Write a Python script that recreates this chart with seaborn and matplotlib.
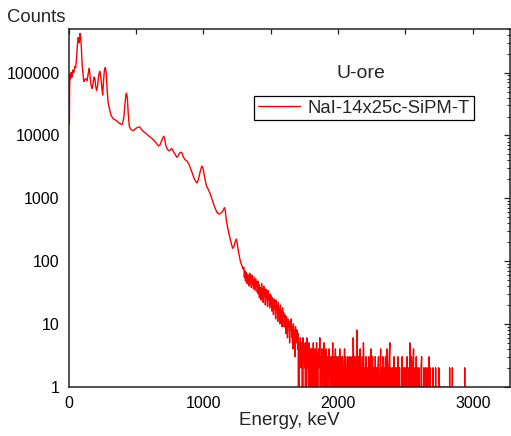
import numpy as np
import pandas as pd
import matplotlib
matplotlib.use("Agg")
import matplotlib.pyplot as plt
import seaborn as sns

# ---- data ----
smooth_energy = [5, 7, 10, 14, 18, 24, 30, 38, 45, 52, 58, 64, 70, 74, 78, 84, 88, 94, 100, 106,
                 112, 120, 128, 136, 146, 153, 160, 168, 173, 180, 188, 194, 200, 207, 214, 224,
                 232, 240, 247, 252, 258, 265, 272, 278, 285, 292, 300, 314, 330, 351, 370, 390,
                 400, 410, 418, 425, 430, 436, 442, 450, 462, 475, 486, 500, 515, 528, 540, 555,
                 573, 590, 607, 622, 640, 655, 667, 680, 692, 705, 712, 720, 730, 741, 752, 765,
                 775, 790, 802, 812, 822, 832, 842, 852, 865, 879, 892, 904, 918, 930, 943, 953,
                 963, 975, 985, 992, 1000, 1010, 1022, 1035, 1052, 1065, 1078, 1089, 1100, 1114,
                 1125, 1138, 1148, 1156, 1162, 1170, 1178, 1188, 1200, 1210, 1217, 1225, 1235,
                 1244, 1250, 1258, 1265, 1274, 1285, 1295]
smooth_counts = [15000, 60000, 95000, 80000, 100000, 85000, 110000, 100000, 125000, 120000,
                 170000, 260000, 360000, 340000, 300000, 420000, 400000, 250000, 130000, 95000,
                 72000, 78000, 80000, 74000, 100000, 117000, 80000, 60000, 56000, 65000, 85000,
                 82000, 62000, 52000, 60000, 95000, 105000, 80000, 55000, 44000, 70000, 110000,
                 120000, 100000, 55000, 34000, 28000, 21000, 18500, 17400, 16000, 15000, 15200,
                 20000, 32000, 45000, 47000, 38000, 22000, 14000, 12500, 12000, 12200, 13000,
                 13500, 13600, 12500, 11500, 10800, 10000, 9300, 8800, 8000, 7300, 6800, 7200,
                 8500, 9700, 9000, 7000, 6200, 5700, 5800, 6200, 5700, 5000, 4500, 4700, 5200,
                 5400, 5200, 4500, 4100, 3900, 3500, 3000, 2500, 2100, 1850, 1750, 2000, 2600,
                 3100, 3240, 2800, 2100, 1600, 1400, 1150, 950, 780, 680, 600, 560, 570, 600,
                 650, 710, 650, 450, 360, 280, 220, 180, 160, 170, 200, 225, 200, 150, 125, 100,
                 85, 75]

tail_start = 1300   # keV, channel width 4 keV
tail_step = 4
tail_counts = [
    80, 55, 70, 48, 66, 52, 44, 62, 50, 58, 40, 64, 46, 54, 38, 60, 42, 50, 36, 56, 44, 34, 52, 40, 46,
    32, 48, 30, 42, 26, 38, 34, 24, 44, 30, 36, 22, 40, 28, 33, 20, 36, 26, 30, 19, 34, 24, 28, 18, 30,
    20, 28, 16, 26, 22, 14, 25, 18, 21, 12, 24, 17, 19, 11, 22, 15, 18, 10, 20, 14, 16, 9, 18, 13, 15,
    9, 14, 11, 7, 13, 10, 6, 12, 9, 11, 5, 10, 8, 12, 6, 9, 4, 10, 7, 8, 3, 9, 6, 5, 8,
    4, 7, 0, 5, 3, 6, 2, 5, 4, 0, 6, 3, 4, 2, 5, 0, 3, 6, 2, 4, 1, 5, 3, 0, 4,
    2, 4, 0, 3, 5, 2, 0, 4, 3, 1, 5, 2, 0, 3, 4, 2, 6, 1, 3, 0, 4, 2, 3, 1, 5,
    2, 0, 3, 4, 1, 3, 2, 0, 4, 2, 3, 1, 0, 3, 2, 5, 1, 3, 0, 2, 4, 1, 3, 2, 0,
    3, 2, 0, 4, 1, 3, 0, 2, 3, 1, 0, 2, 4, 0, 3, 1, 2, 0, 3, 2, 0, 1, 3, 0, 2,
    0, 3, 1, 6, 2, 0, 3, 1, 2, 0, 8, 2, 0, 3, 1, 2, 4, 0, 2, 1, 3, 0, 5, 1, 2,
    0, 2, 3, 0, 1, 2, 0, 3, 1, 0, 2, 4, 0, 1, 3, 0, 2, 1, 0, 3, 0, 2, 1, 0, 2,
    3, 0, 1, 2, 4, 0, 2, 1, 3, 0, 2, 0, 1, 3, 0, 2, 4, 1, 0, 2, 3, 5, 0, 2, 1,
    0, 2, 1, 0, 3, 0, 2, 0, 1, 2, 0, 3, 1, 0, 2, 0, 1, 0, 2, 3, 0, 1, 2, 0, 2,
    1, 0, 2, 3, 0, 2, 1, 0, 5, 2, 0, 3, 1, 0, 2, 4, 0, 1, 2, 0, 3, 0, 2, 1, 0,
    2, 0, 1, 0, 2, 3, 0, 1, 0, 2, 0, 0, 2, 1, 0, 2, 0, 1, 0, 3, 0, 2, 0, 0, 1,
    0, 2, 0, 1, 0, 0, 2, 0, 1, 0, 0, 0, 2, 0, 0, 1, 0, 0, 0, 0, 1, 0, 0, 0, 0,
    0, 0, 0, 1, 0, 0, 0, 2, 0, 0, 0, 0, 2, 0, 0, 0, 0, 0, 0, 0, 0, 0, 0, 0, 0,
    0, 0, 0, 0, 0, 0, 0, 0, 0, 0, 2, 0, 0, 0, 0, 0, 0, 0, 0, 0, 0, 0, 0, 0, 0,
]
series_label = "NaI-14x25c-SiPM-T"
title_text = "U-ore"
x_ticks = [0, 1000, 2000, 3000]
y_ticks = [1, 10, 100, 1000, 10000, 100000]
y_tick_labels = ["1", "10", "100", "1000", "10000", "100000"]

tail_energy = (tail_start + tail_step * np.arange(len(tail_counts))).tolist()
df = pd.DataFrame({
    "energy": smooth_energy + tail_energy,
    "counts": smooth_counts + tail_counts,
})

# ---- style ----
sns.set_style("white")
plt.rcParams["font.family"] = ["Liberation Sans", "DejaVu Sans"]

W, H = 511, 436
fig = plt.figure(figsize=(W / 100, H / 100), dpi=100)
ax = fig.add_axes([68.7 / W, 1 - 386.7 / H, (510 - 68.7) / W, (386.7 - 28.7) / H])

sns.lineplot(data=df, x="energy", y="counts", ax=ax, color="#ff0000", lw=1.0,
             estimator=None, sort=False, label=series_label)
ax.set_yscale("log")
ax.set_xlim(0, 3276)
ax.set_ylim(1, 5e5)

ax.set_xticks(x_ticks)
ax.set_xticklabels([str(t) for t in x_ticks])
ax.set_xticks([500, 1500, 2500], minor=True)
ax.set_yticks(y_ticks)
ax.set_yticklabels(y_tick_labels)
ax.yaxis.set_minor_locator(matplotlib.ticker.LogLocator(base=10, subs=np.arange(2, 10)))
ax.yaxis.set_minor_formatter(matplotlib.ticker.NullFormatter())

ax.tick_params(axis="both", which="major", direction="out", length=4.5, width=0.9,
               labelsize=11.5, colors="#222222", labelcolor="black", pad=2)
ax.tick_params(axis="both", which="minor", direction="out", length=2.3, width=0.7,
               colors="#222222")
ax.tick_params(top=False, right=False)
for sp in ax.spines.values():
    sp.set_linewidth(1.1)
    sp.set_color("#222222")

# top and right ticks pointing inward
secx = ax.secondary_xaxis("top")
secx.set_xticks(x_ticks)
secx.set_xticks([500, 1500, 2500], minor=True)
secx.tick_params(which="both", direction="in", length=3.6, width=0.9, labeltop=False,
                 colors="#222222")
secx.spines["top"].set_visible(False)
secy = ax.secondary_yaxis("right")
secy.set_yticks(y_ticks)
secy.yaxis.set_minor_locator(matplotlib.ticker.LogLocator(base=10, subs=np.arange(2, 10)))
secy.yaxis.set_minor_formatter(matplotlib.ticker.NullFormatter())
secy.tick_params(which="major", direction="in", length=4.5, width=0.9, labelright=False,
                 colors="#222222")
secy.tick_params(which="minor", direction="in", length=2.3, width=0.7, labelright=False,
                 colors="#222222")
secy.spines["right"].set_visible(False)

ax.set_xlabel("Energy, keV", fontsize=13.5, labelpad=1)
ax.set_ylabel("")
fig.text(7 / W, 1 - 17 / H, "Counts", fontsize=13.3, ha="left", va="center")
fig.text(361 / W, 1 - 74 / H, title_text, fontsize=14, ha="center", va="center")

leg = ax.legend(loc="upper left", bbox_to_anchor=(254 / W, 1 - 96 / H),
                bbox_transform=fig.transFigure, borderaxespad=0, fancybox=False,
                frameon=True, edgecolor="black", framealpha=1, fontsize=13.3,
                handlelength=2.3, handletextpad=0.4, borderpad=0.2)
leg.get_frame().set_linewidth(0.9)

fig.savefig("out.png", dpi=100)
